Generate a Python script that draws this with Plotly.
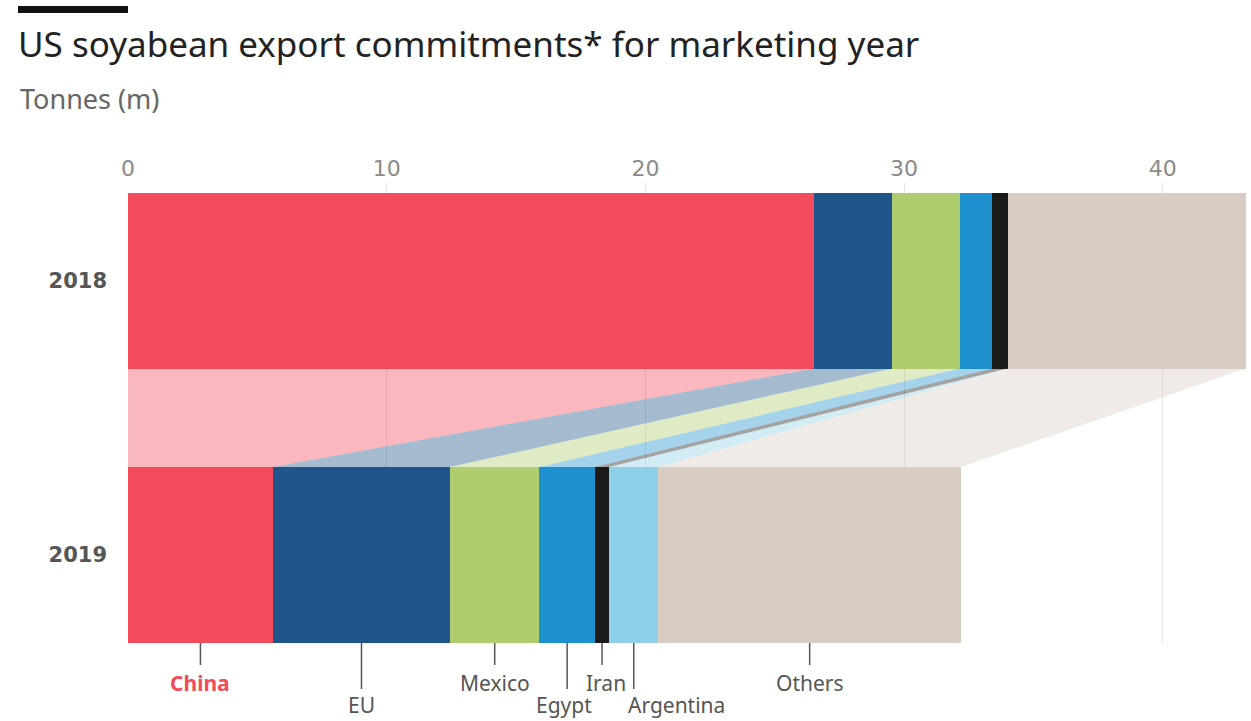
import plotly.graph_objects as go
import numpy as np

# ---- data ----
countries = ["China", "EU", "Mexico", "Egypt", "Iran", "Argentina", "Others"]
v2018 = [26.5, 3.05, 2.6, 1.25, 0.6, 0.0, 9.2]
v2019 = [5.6, 6.85, 3.45, 2.15, 0.55, 1.9, 11.7]
years = ["2018", "2019"]
tick_vals = [0, 10, 20, 30, 40]

colors = ["#F24C5C", "#1F558A", "#AFCD6E", "#1E90CE", "#1A1A1A", "#8ECFE8", "#D9CCC2"]

W, H = 1251, 721
ML, MR, MT, MB = 128, 5, 183, 78
PW = W - ML - MR
PH = H - MT - MB
XMAX = PW / 25.87
Y18, Y19 = 1.0, 0.0
BW = 0.641
YMIN = Y19 - BW / 2
YMAX = YMIN + PH / 274.5

FONT = "Noto Sans"
NUMFONT = "DejaVu Sans"

fig = go.Figure()

# connecting bands
c18 = np.concatenate([[0], np.cumsum(v2018)])
c19 = np.concatenate([[0], np.cumsum(v2019)])
ytop = Y18 - BW / 2
ybot = Y19 + BW / 2
for i, name in enumerate(countries):
    xs = [c18[i], c18[i + 1], c19[i + 1], c19[i], c18[i]]
    ys = [ytop, ytop, ybot, ybot, ytop]
    fig.add_trace(go.Scatter(x=xs, y=ys, mode="lines", fill="toself",
                             fillcolor=colors[i], opacity=0.4,
                             line=dict(width=0), hoverinfo="skip",
                             showlegend=False))

# stacked bars
for i, name in enumerate(countries):
    fig.add_trace(go.Bar(y=[Y18, Y19], x=[v2018[i], v2019[i]], orientation="h",
                         width=BW, marker=dict(color=colors[i], line=dict(width=0)),
                         name=name, showlegend=False))

fig.update_layout(
    barmode="stack",
    width=W, height=H,
    margin=dict(l=ML, r=MR, t=MT, b=MB),
    paper_bgcolor="white", plot_bgcolor="white",
    font=dict(family=FONT, color="#555"),
    title=dict(text="US soyabean export commitments* for marketing year",
               x=18 / W, xanchor="left", xref="container",
               y=1 - 45 / H, yanchor="middle", yref="container",
               font=dict(size=35, color="#222", family=FONT)),
    xaxis=dict(range=[0, XMAX], side="top", tickvals=tick_vals,
               showgrid=True, gridcolor="#e3e3e3", gridwidth=1,
               zeroline=False, showline=False, ticks="",
               tickfont=dict(size=22, color="#8a8a8a", family=NUMFONT),
               ticklabelstandoff=2, fixedrange=True),
    yaxis=dict(range=[YMIN, YMAX], tickvals=[Y18, Y19], ticktext=years,
               showgrid=False, zeroline=False, showline=False, ticks="",
               tickfont=dict(size=21, color="#555", family=NUMFONT, weight="bold"),
               ticklabelstandoff=20, fixedrange=True),
)

def px_to_paper_x(px):
    return (px - ML) / PW

def px_to_paper_y(py):
    return (MT + PH - py) / PH

shapes = []
annotations = []
# top black bar
shapes.append(dict(type="rect", xref="paper", yref="paper",
                   x0=px_to_paper_x(18), x1=px_to_paper_x(128),
                   y0=px_to_paper_y(13), y1=px_to_paper_y(6),
                   fillcolor="#111", line=dict(width=0)))
# subtitle
annotations.append(dict(text="Tonnes (m)", xref="paper", yref="paper",
                        x=px_to_paper_x(18), y=px_to_paper_y(98),
                        xanchor="left", yanchor="middle", showarrow=False,
                        font=dict(size=27, color="#666", family=FONT)))

# bottom labels with leader lines
lower_row = {"EU", "Egypt", "Argentina"}
label_shift = {"Egypt": -3, "Iran": 4, "Argentina": -8}
mids = (c19[:-1] + c19[1:]) / 2
for i, name in enumerate(countries):
    low = name in lower_row
    line_len = 46 if low else 22
    label_y = 705 if low else 683
    shapes.append(dict(type="line", xref="x", yref="paper",
                       x0=mids[i], x1=mids[i],
                       y0=0, y1=px_to_paper_y(MT + PH + line_len),
                       line=dict(color="#555", width=1.5)))
    is_china = name == "China"
    xanchor = "left" if name == "Argentina" else "center"
    annotations.append(dict(text=f"<b>{name}</b>" if is_china else name,
                            xref="x", yref="paper", x=mids[i],
                            y=px_to_paper_y(label_y), xanchor=xanchor,
                            xshift=label_shift.get(name, 0),
                            yanchor="middle", showarrow=False,
                            font=dict(size=21, family=FONT,
                                      color="#F24C5C" if is_china else "#555")))

fig.update_layout(shapes=shapes, annotations=annotations)
fig.write_html("out.html")
